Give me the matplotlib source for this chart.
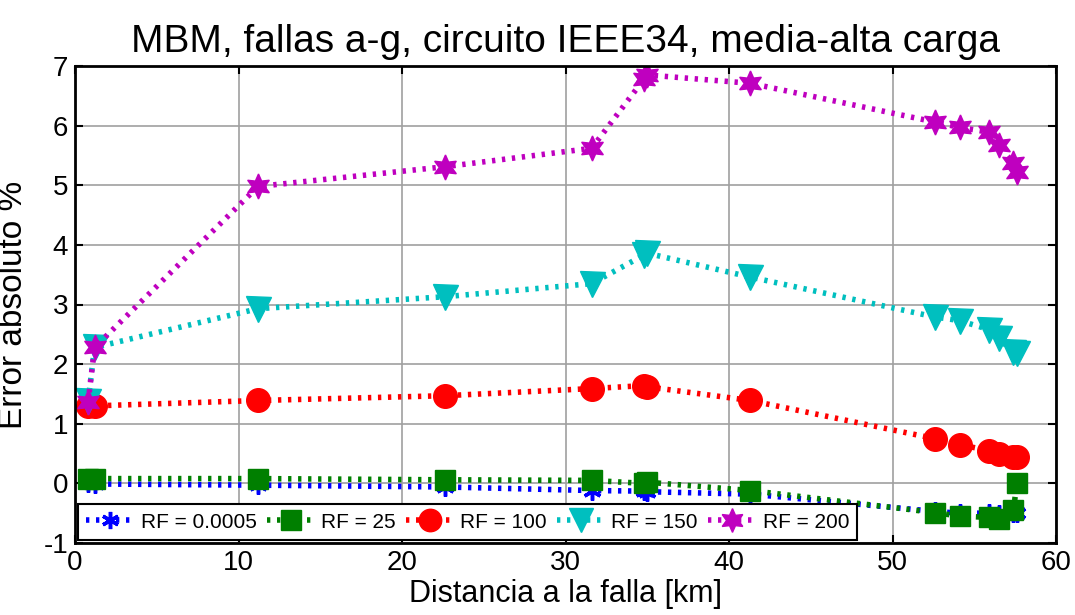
import matplotlib.pyplot as plt
import numpy as np

# Distancia a la falla [km] de cada punto de prueba
dist = [0.8, 1.2, 11.2, 22.6, 31.6, 34.8, 35.0, 41.3, 52.6, 54.1, 55.9, 56.5, 57.4, 57.6]

# Error absoluto % para cada resistencia de falla
err_0005 = [0.0, -0.01, -0.03, -0.06, -0.12, -0.13, -0.14, -0.18, -0.47, -0.50, -0.50, -0.52, -0.49, -0.50]
err_25 = [0.08, 0.08, 0.08, 0.06, 0.05, 0.0, 0.02, -0.12, -0.49, -0.55, -0.57, -0.59, -0.45, 0.0]
err_100 = [1.30, 1.30, 1.39, 1.47, 1.59, 1.64, 1.62, 1.39, 0.75, 0.65, 0.55, 0.49, 0.45, 0.45]
err_150 = [1.38, 2.28, 2.93, 3.13, 3.35, 3.83, 3.86, 3.46, 2.79, 2.73, 2.58, 2.43, 2.20, 2.18]
err_200 = [1.36, 2.28, 4.98, 5.31, 5.62, 6.78, 6.85, 6.71, 6.06, 5.97, 5.89, 5.67, 5.37, 5.22]

labels = ["RF = 0.0005", "RF = 25", "RF = 100", "RF = 150", "RF = 200"]
series = [err_0005, err_25, err_100, err_150, err_200]
colors = ["#0000ff", "#007f00", "#ff0000", "#00bfbf", "#bf00bf"]
markers = [(6, 2, 0), "s", "o", "v", (6, 1, 0)]
msizes = [13, 15, 17, 18, 18]

plt.rcParams['font.family'] = ['Liberation Sans', 'DejaVu Sans']
plt.rcParams['axes.unicode_minus'] = False

fig = plt.figure(figsize=(10.75, 6.15), dpi=100)
ax = fig.add_axes([75/1075, 1-543/615, (1056-75)/1075, (543-66)/615])

for y, lab, c, m, ms in zip(series, labels, colors, markers, msizes):
    ax.plot(dist, y, linestyle=(0, (0.6, 1.2)), dash_capstyle='butt', linewidth=4,
            color=c, marker=m, markersize=ms, markeredgecolor=c,
            markeredgewidth=2.5 if m == (6, 2, 0) else 1, label=lab)

ax.set_xlim(0, 60)
ax.set_ylim(-1, 7)
ax.set_xticks(np.arange(0, 61, 10))
ax.set_yticks(np.arange(-1, 8, 1))
ax.grid(True, color='#a0a0a0', linewidth=1.2)
ax.tick_params(direction='in', top=True, right=True, length=6, width=1.5,
               labelsize=20, pad=5)
for s in ax.spines.values():
    s.set_linewidth(2)

ax.set_title("MBM, fallas a-g, circuito IEEE34, media-alta carga", fontsize=28, pad=10)
ax.set_xlabel("Distancia a la falla [km]", fontsize=22, labelpad=2)
ax.set_ylabel("Error absoluto %", fontsize=24, labelpad=10)

leg = ax.legend(loc='lower left', ncol=5, fontsize=15, fancybox=False,
                edgecolor='black', framealpha=1, handlelength=2.3,
                handletextpad=0.3, columnspacing=0.5, borderpad=0.4,
                borderaxespad=0.15, markerscale=0.95)
leg.get_frame().set_linewidth(1.5)

fig.savefig("out.png", dpi=100)
